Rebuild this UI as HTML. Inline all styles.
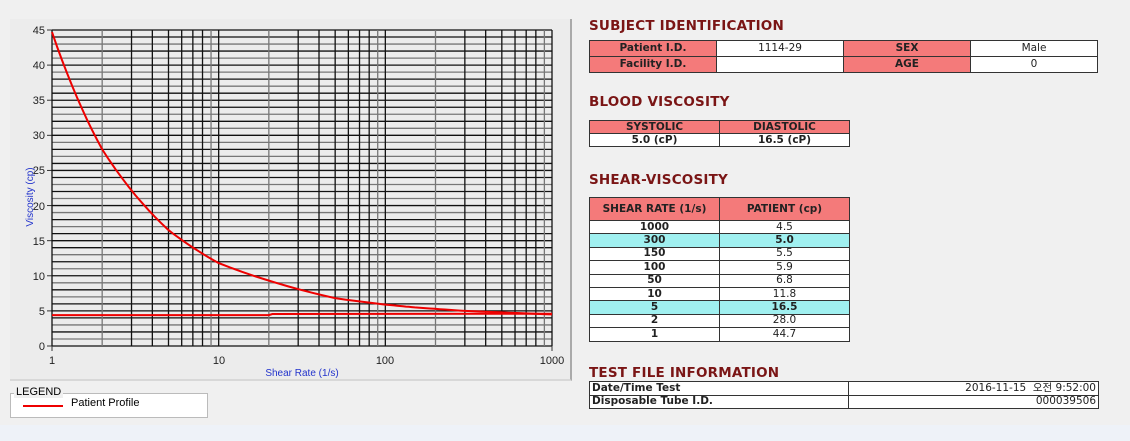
<!DOCTYPE html>
<html><head><meta charset="utf-8"><style>
body{margin:0;width:1130px;height:441px;background:#f0f0f0;position:relative;overflow:hidden;font-family:"DejaVu Sans","Liberation Sans","Noto Sans CJK KR",sans-serif}
.strip{position:absolute;left:0;top:425px;width:1130px;height:16px;background:#eef2f8}
.panel{position:absolute;left:10px;top:19px;width:560px;height:360px;background:#ececec;border-right:2px solid #aaa;border-bottom:2px solid #d8d8d8}
h2{position:absolute;margin:0;font-size:13.5px;font-weight:bold;color:#7a1515;left:589px;letter-spacing:0.2px}
table{position:absolute;border-collapse:collapse;font-size:10.5px;table-layout:fixed}
td{border:1px solid #333;padding:0;text-align:center;height:15px;line-height:11px;background:#fff;color:#222;box-sizing:border-box}
td.p{background:#f47a7a;font-weight:bold;color:#222}
tr.c td{background:#a0f0f0;font-weight:bold}
.b td:first-child{font-weight:bold}
.s td{height:13.4px}
.leg{position:absolute;left:10px;top:393px;width:196px;height:23px;background:#fff;border:1px solid #bbb}
</style></head><body>
<div class="strip"></div>
<div class="panel"></div>
<svg id="ch" style="position:absolute;left:0;top:0" width="580" height="390" font-family="Liberation Sans, sans-serif" font-size="11">
<g id="grid"></g>
<g fill="#222" text-anchor="end">
<text x="45" y="34">45</text><text x="45" y="69">40</text><text x="45" y="104">35</text><text x="45" y="139">30</text><text x="45" y="174">25</text><text x="45" y="210">20</text><text x="45" y="245">15</text><text x="45" y="280">10</text><text x="45" y="315">5</text><text x="45" y="350">0</text>
</g>
<g fill="#222" text-anchor="middle">
<text x="52" y="364">1</text><text x="219" y="364">10</text><text x="385" y="364">100</text><text x="552" y="364">1000</text>
</g>
<text x="302" y="376" fill="#2233cc" font-size="10" text-anchor="middle">Shear Rate (1/s)</text>
<text transform="translate(33,197) rotate(-90)" fill="#2233cc" font-size="10" text-anchor="middle">Viscosity (cp)</text>
<g id="curves"></g>
</svg>
<div class="leg"><span style="position:absolute;left:12px;top:11px;width:40px;height:2px;background:#e00"></span><span style="position:absolute;left:60px;top:3px;font-size:11px;font-family:'Liberation Sans',sans-serif">Patient Profile</span></div>
<span style="position:absolute;left:14px;top:386px;font-size:11px;background:#f0f0f0;padding:0 2px;font-family:'Liberation Sans',sans-serif">LEGEND</span>
<script>
var X=v=>52+500*Math.log10(v)/3,Y=v=>346-v*316/45,g='';
for(var i=0;i<=45;i++){var y=Y(i);g+='<line x1="52" x2="552" y1="'+y+'" y2="'+y+'" stroke="'+(i%5==0?'#111':(i%2?'#777':'#111'))+'" stroke-width="1.3"/>';
g+='<line x1="47" x2="52" y1="'+y+'" y2="'+y+'" stroke="'+(i%5==0?'#333':'none')+'"/>';}
[1,10,100].forEach(d=>{for(var k=1;k<10;k++){var x=X(d*k);g+='<line y1="30" y2="346" x1="'+x+'" x2="'+x+'" stroke="'+((k==2||k==9)?'#777':'#111')+'" stroke-width="1.3"/>';}});
g+='<line y1="30" y2="346" x1="552" x2="552" stroke="#111" stroke-width="1.3"/>';
g+='<line y1="346" y2="351" x1="52" x2="52" stroke="#333"/><line y1="346" y2="351" x1="552" x2="552" stroke="#333"/>';
document.getElementById('grid').innerHTML=g;
var P=[[1,44.7],[2,28],[5,16.5],[10,11.8],[50,6.8],[100,5.9],[150,5.5],[300,5.0],[1000,4.5]],pts=[];
for(var j=0;j<P.length-1;j++){var a=P[j],b=P[j+1];for(var t=0;t<1;t+=0.1){var lx=Math.log(a[0])+t*(Math.log(b[0])-Math.log(a[0])),ly=Math.log(a[1])+t*(Math.log(b[1])-Math.log(a[1]));pts.push(X(Math.exp(lx)).toFixed(1)+','+Y(Math.exp(ly)).toFixed(1));}}
pts.push(X(1000)+','+Y(4.5));
document.getElementById('curves').innerHTML='<polyline points="'+pts.join(' ')+'" fill="none" stroke="#e00" stroke-width="2"/>'+
'<polyline points="52,'+Y(4.4)+' '+X(20)+','+Y(4.4)+' '+X(21)+','+Y(4.55)+' 552,'+Y(4.6)+'" fill="none" stroke="#e00" stroke-width="2"/>';
</script>
<h2 style="top:18px">SUBJECT IDENTIFICATION</h2>
<table style="left:589px;top:40px;width:509px"><colgroup><col style="width:127px"><col style="width:127px"><col style="width:127px"><col style="width:127px"></colgroup>
<tr><td class="p" style="height:16px">Patient I.D.</td><td style="height:16px">1114-29</td><td class="p">SEX</td><td>Male</td></tr>
<tr><td class="p" style="height:16px">Facility I.D.</td><td></td><td class="p">AGE</td><td>0</td></tr></table>
<h2 style="top:94px">BLOOD VISCOSITY</h2>
<table style="left:589px;top:120px;width:260px"><colgroup><col style="width:130px"><col style="width:130px"></colgroup>
<tr><td class="p" style="height:13px">SYSTOLIC</td><td class="p" style="height:13px">DIASTOLIC</td></tr>
<tr><td style="font-weight:bold;height:13px">5.0 (cP)</td><td style="font-weight:bold;height:13px">16.5 (cP)</td></tr></table>
<h2 style="top:172px">SHEAR-VISCOSITY</h2>
<table class="b s" style="left:589px;top:197px;width:260px"><colgroup><col style="width:130px"><col style="width:130px"></colgroup>
<tr><td class="p" style="height:23px">SHEAR RATE (1/s)</td><td class="p" style="height:23px">PATIENT (cp)</td></tr>
<tr><td>1000</td><td>4.5</td></tr>
<tr class="c"><td>300</td><td>5.0</td></tr>
<tr><td>150</td><td>5.5</td></tr>
<tr><td>100</td><td>5.9</td></tr>
<tr><td>50</td><td>6.8</td></tr>
<tr><td>10</td><td>11.8</td></tr>
<tr class="c"><td>5</td><td>16.5</td></tr>
<tr><td>2</td><td>28.0</td></tr>
<tr><td>1</td><td>44.7</td></tr></table>
<h2 style="top:365px">TEST FILE INFORMATION</h2>
<table style="left:589px;top:381px;width:509px"><colgroup><col style="width:259px"><col style="width:250px"></colgroup>
<tr><td style="text-align:left;font-weight:bold;height:13.5px;padding-left:2px">Date/Time Test</td><td style="text-align:right;height:13.5px;padding-right:2px">2016-11-15 &nbsp;오전 9:52:00</td></tr>
<tr><td style="text-align:left;font-weight:bold;height:13.5px;padding-left:2px">Disposable Tube I.D.</td><td style="text-align:right;height:13.5px;padding-right:2px">000039506</td></tr></table>
</body></html>
